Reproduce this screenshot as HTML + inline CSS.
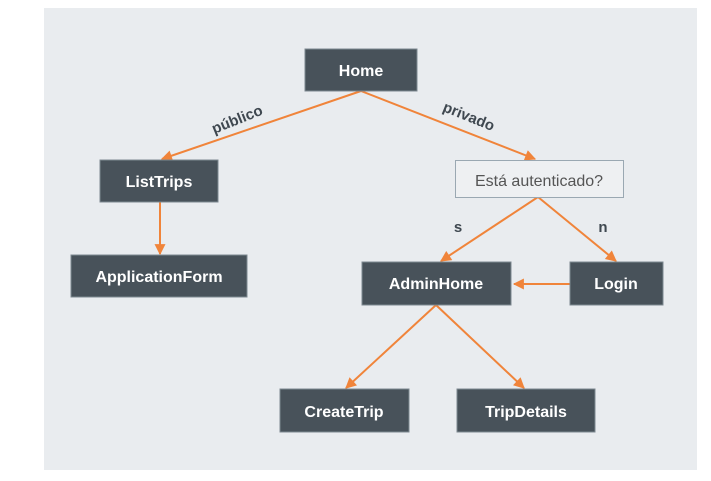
<!DOCTYPE html>
<html><head><meta charset="utf-8"><style>
body{margin:0;width:711px;height:481px;background:#fff;overflow:hidden}
svg{display:block}
text{font-family:"Liberation Sans",sans-serif}
</style></head><body>
<svg width="711" height="481" viewBox="0 0 711 481">
<defs><marker id="a" viewBox="0 0 10 10" refX="9" refY="5" markerWidth="12" markerHeight="11" markerUnits="userSpaceOnUse" orient="auto"><path d="M0,0L10,5L0,10z" fill="#f0843a"/></marker></defs>
<rect x="44" y="8" width="653" height="462" fill="#e9ecef"/>
<g stroke="#f0843a" stroke-width="2" fill="none" marker-end="url(#a)">
<line x1="361" y1="91" x2="162" y2="159"/>
<line x1="361" y1="91" x2="535" y2="159"/>
<line x1="160" y1="202" x2="160" y2="254"/>
<line x1="538" y1="197" x2="441" y2="261"/>
<line x1="538" y1="197" x2="616" y2="261"/>
<line x1="570" y1="284" x2="514" y2="284"/>
<line x1="436" y1="305" x2="346" y2="388"/>
<line x1="436" y1="305" x2="524" y2="388"/>
</g>
<g fill="#48525a" stroke="#7d8990" stroke-width="1">
<rect x="305" y="49" width="112" height="42"/>
<rect x="100" y="160" width="118" height="42"/>
<rect x="71" y="255" width="176" height="42"/>
<rect x="362" y="262" width="149" height="43"/>
<rect x="570" y="262" width="93" height="43"/>
<rect x="280" y="389" width="129" height="43"/>
<rect x="457" y="389" width="138" height="43"/>
</g>
<rect x="455.5" y="160.5" width="168" height="37" fill="#eef0f2" stroke="#9aa8b2"/>
<g fill="#fff" font-weight="bold" font-size="16" text-anchor="middle">
<text x="361" y="76">Home</text>
<text x="159" y="187">ListTrips</text>
<text x="159" y="282">ApplicationForm</text>
<text x="436" y="289">AdminHome</text>
<text x="616" y="289">Login</text>
<text x="344" y="417">CreateTrip</text>
<text x="526" y="417">TripDetails</text>
</g>
<text x="539" y="186" font-size="16" fill="#555" text-anchor="middle">Está autenticado?</text>
<g fill="#3f4850" font-weight="bold" font-size="15" text-anchor="middle">
<text transform="translate(239,124) rotate(-22)">público</text>
<text transform="translate(467,121) rotate(22)">privado</text>
<text x="458" y="232">s</text>
<text x="603" y="232">n</text>
</g>
</svg>
</body></html>
